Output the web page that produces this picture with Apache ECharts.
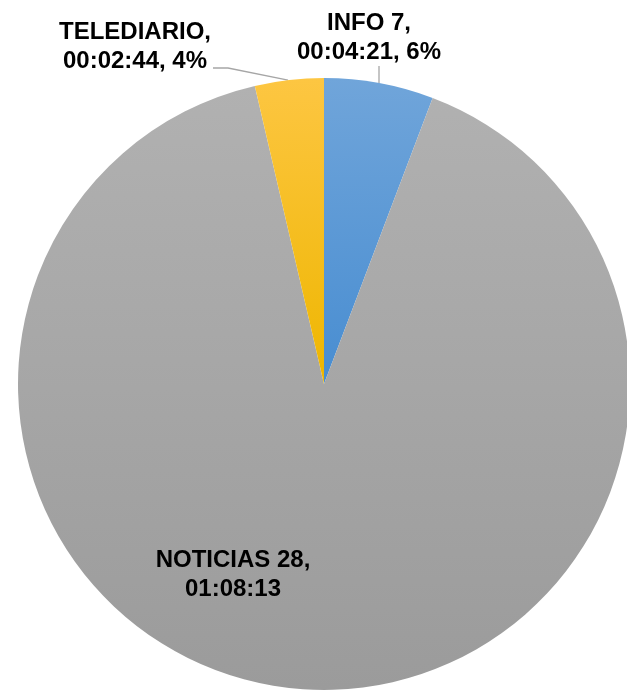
<!DOCTYPE html>
<html>
<head>
<meta charset="utf-8">
<script src="https://cdn.jsdelivr.net/npm/echarts@6/dist/echarts.min.js"></script>
<style>
  html, body { margin: 0; padding: 0; background: #fff; }
  #chart { width: 627px; height: 694px; }
</style>
</head>
<body>
<div id="chart"></div>
<script>
// programmes, in clockwise order from 12 o'clock
const names = ['INFO 7', 'NOTICIAS 28', 'TELEDIARIO'];
const durations = ['00:04:21', '01:08:13', '00:02:44'];
const showPercent = [true, false, true];

const topColors = ['#70a5da', '#b1b1b1', '#fdc642'];
const bottomColors = ['#488dd1', '#9b9b9b', '#eeb600'];

const CX = 324, CY = 384, R = 306;
// where each label sits (centre of the text block)
const labelPos = [[369, 38], [233, 575], [135, 47]];

const toSeconds = (s) => s.split(':').reduce((acc, v) => acc * 60 + Number(v), 0);
// y of the pie's rim at a given x (upper half)
const rimY = (x) => CY - Math.sqrt(R * R - (x - CX) * (x - CX));

// leader lines: rim point -> elbow -> label end
const leaders = [
  [[379, rimY(379)], [379, 66], [379, 66]],
  null,
  [[288, rimY(288)], [228, 68], [213, 68]],
];

const chart = echarts.init(document.getElementById('chart'), null, { renderer: 'canvas' });

const data = names.map((name, i) => ({
  name,
  value: toSeconds(durations[i]),
  itemStyle: {
    color: {
      type: 'linear', x: 0, y: 0, x2: 0, y2: 1,
      colorStops: [
        { offset: 0, color: topColors[i] },
        { offset: 1, color: bottomColors[i] },
      ],
    },
  },
  label: { position: showPercent[i] ? 'outside' : 'inside' },
  labelLine: { show: showPercent[i] },
}));

chart.setOption({
  animation: false,
  backgroundColor: '#fff',
  series: [
    {
      type: 'pie',
      center: [CX, CY],
      radius: R,
      startAngle: 90,
      clockwise: true,
      percentPrecision: 0,
      data,
      label: {
        show: true,
        color: '#000',
        fontFamily: 'Liberation Sans, Arial, sans-serif',
        fontWeight: 'bold',
        fontSize: 24,
        lineHeight: 29,
        align: 'center',
        formatter: (p) =>
          showPercent[p.dataIndex]
            ? `${p.name},\n${durations[p.dataIndex]}, ${Math.round(p.percent)}%`
            : `${p.name},\n${durations[p.dataIndex]}`,
      },
      labelLine: {
        lineStyle: { color: '#a6a6a6', width: 1.3 },
        length: 10,
        length2: 10,
        smooth: false,
      },
      labelLayout: (params) => {
        const out = {
          x: labelPos[params.dataIndex][0],
          y: labelPos[params.dataIndex][1],
          align: 'center',
          verticalAlign: 'middle',
        };
        if (leaders[params.dataIndex]) out.labelLinePoints = leaders[params.dataIndex];
        return out;
      },
      emphasis: { disabled: true },
    },
  ],
});
</script>
</body>
</html>
